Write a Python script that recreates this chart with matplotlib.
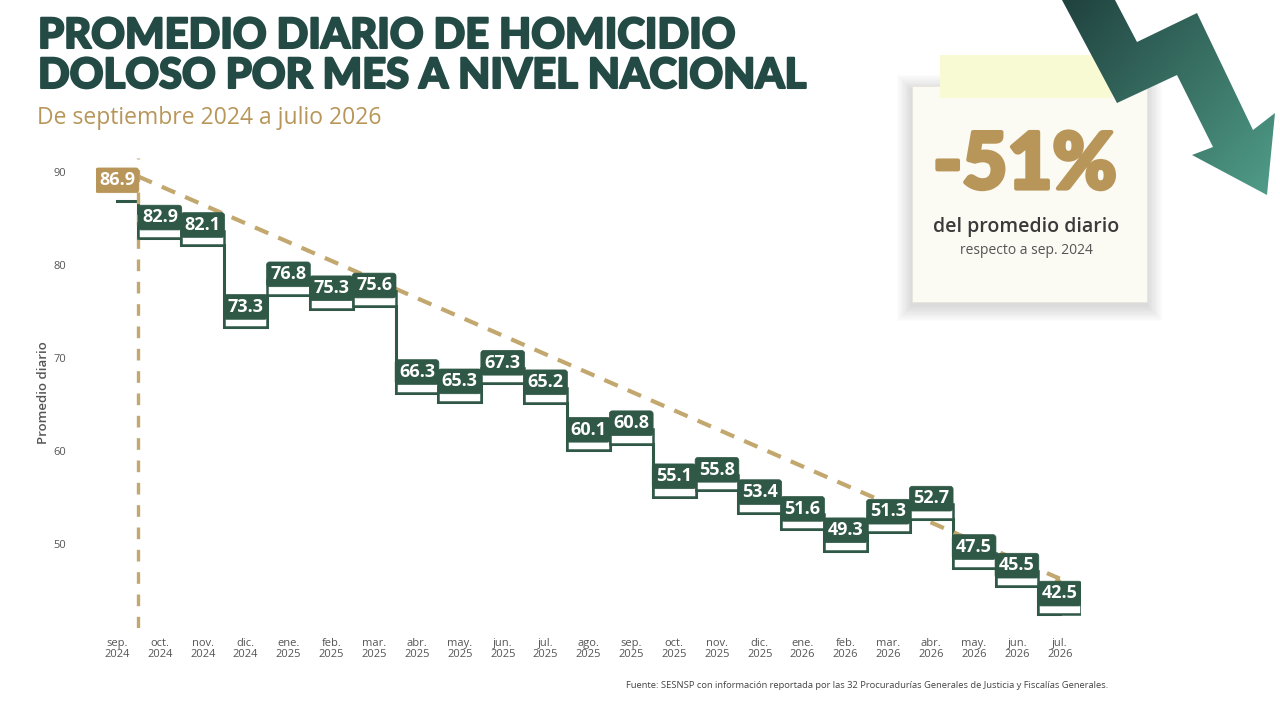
import numpy as np
import matplotlib.pyplot as plt
import matplotlib.patheffects as pe
from matplotlib.patches import FancyBboxPatch, Rectangle, Polygon

# data
months = ['sep.\n2024', 'oct.\n2024', 'nov.\n2024', 'dic.\n2024',
          'ene.\n2025', 'feb.\n2025', 'mar.\n2025', 'abr.\n2025',
          'may.\n2025', 'jun.\n2025', 'jul.\n2025', 'ago.\n2025',
          'sep.\n2025', 'oct.\n2025', 'nov.\n2025', 'dic.\n2025',
          'ene.\n2026', 'feb.\n2026', 'mar.\n2026', 'abr.\n2026',
          'may.\n2026', 'jun.\n2026', 'jul.\n2026']
values = [86.9, 82.9, 82.1, 73.3, 76.8, 75.3, 75.6, 66.3, 65.3, 67.3, 65.2,
          60.1, 60.8, 55.1, 55.8, 53.4, 51.6, 49.3, 51.3, 52.7, 47.5, 45.5, 42.5]
trend_x = [0.5, 22.0]
trend_y = [89.5, 46.3]
yticks = [50, 60, 70, 80, 90]

GREEN = '#2f5846'
GOLD = '#b8965a'
TREND = '#c2a86e'
TITLE = '#234a44'
GRAY = '#555555'

fig = plt.figure(figsize=(12.8, 7.05), dpi=100)
fig.patch.set_facecolor('white')

ax = fig.add_axes([0.0747, 0.1092, 0.770, 0.6667])
x = np.arange(len(values))
ax.set_xlim(-0.5, len(values) - 0.5)
ax.set_ylim(41, 91.5)

ax.step(x, values, where='mid', color=GREEN, lw=2.2, zorder=2,
        solid_joinstyle='miter')
ax.plot(trend_x, trend_y, color=TREND, lw=3, dashes=(3.5, 2.6), zorder=3)
ax.annotate('', xy=(trend_x[1] + 0.12, trend_y[1] - 0.6),
            xytext=(trend_x[1] - 0.2, trend_y[1] + 0.25),
            arrowprops=dict(arrowstyle='-|>', color=TREND, lw=0,
                            mutation_scale=14), zorder=3)
ax.axvline(0.5, ymin=0, ymax=1, color=TREND, lw=2.4, dashes=(3.5, 3.2),
           zorder=3.5)

# pixel-per-unit ratio for rounded corners
aspect = (0.770 * 1280 / 23) / (0.6667 * 705 / 50.5)
for i, v in enumerate(values):
    fc = GOLD if i == 0 else GREEN
    if i > 0:
        ax.add_patch(Rectangle((i - 0.5, v), 1.0, 1.6, fc='white', ec=GREEN,
                               lw=1.8, zorder=4))
    ax.add_patch(FancyBboxPatch((i - 0.46, v + 1.1), 0.92, 2.2,
                                boxstyle='round,pad=0.05,rounding_size=0.07',
                                mutation_aspect=aspect, fc=fc, ec=fc,
                                lw=0.5, zorder=5))
    ax.text(i, v + 2.22, f'{v:.1f}', ha='center', va='center', color='white',
            fontsize=13, fontweight='bold', family='Open Sans', zorder=6)

ax.set_xticks(x)
ax.set_xticklabels(months, fontsize=8, color=GRAY, family='Open Sans',
                   linespacing=1.0)
ax.set_yticks(yticks)
ax.set_yticklabels([str(t) for t in yticks], fontsize=8, color=GRAY,
                   family='Open Sans')
ax.tick_params(length=0)
ax.tick_params(axis='x', pad=7)
ax.tick_params(axis='y', pad=21)
for s in ax.spines.values():
    s.set_visible(False)
ax.set_ylabel('Promedio diario', fontsize=9.5, color=GRAY, family='Open Sans',
              fontweight='semibold', labelpad=3)

# decorations in pixel coordinates
deco = fig.add_axes([0, 0, 1, 1], zorder=10)
deco.set_xlim(0, 1280)
deco.set_ylim(705, 0)
deco.set_axis_off()

heavy = [pe.withStroke(linewidth=1.5, foreground=TITLE)]
deco.text(38, 48, 'PROMEDIO DIARIO DE HOMICIDIO', fontsize=30,
          family='Lato', fontweight='black', color=TITLE, va='baseline',
          path_effects=heavy)
deco.text(38, 88, 'DOLOSO POR MES A NIVEL NACIONAL', fontsize=30,
          family='Lato', fontweight='black', color=TITLE, va='baseline',
          path_effects=heavy)
deco.text(37, 118, 'De septiembre 2024 a julio 2026', fontsize=16.5,
          family='Open Sans', color=GOLD, va='center')

deco.text(1108, 686, 'Fuente: SESNSP con información reportada por las 32 '
          'Procuradurías Generales de Justicia y Fiscalías Generales.',
          fontsize=6.75, family='Open Sans', color='#444444', ha='right',
          va='center')

# sticky note with soft shadow
for k in range(12):
    g = 1 + k * 1.3
    deco.add_patch(Rectangle((912 - g, 86 - g + 4), 235 + 2 * g, 216 + 2 * g,
                             fc='#000000', ec='none', alpha=0.012))
deco.add_patch(Rectangle((912, 86), 235, 216, fc='#fbfaf3', ec='#e6e4da',
                         lw=0.5))
deco.add_patch(Rectangle((940, 55), 172, 43, fc='#f8fad4', ec='none'))
deco.text(1025, 166, '-51%', fontsize=56, family='Lato', fontweight='black',
          color=GOLD, ha='center', va='center',
          path_effects=[pe.withStroke(linewidth=3, foreground=GOLD)])
deco.text(1026, 227, 'del promedio diario', fontsize=14, family='Open Sans',
          fontweight='semibold', color='#3a3a3a', ha='center', va='center')
deco.text(1026, 251, 'respecto a sep. 2024', fontsize=10, family='Open Sans',
          color=GRAY, ha='center', va='center')

# zigzag arrow with gradient
arrow_pts = [(1062, 0), (1117, 103), (1177, 75), (1213, 147), (1192, 155),
             (1267, 195), (1275, 113), (1253, 130), (1197, 13), (1137, 42),
             (1115, 0)]
arrow = Polygon(arrow_pts, closed=True, fc='none', ec='none')
deco.add_patch(arrow)
gx, gy = np.meshgrid(np.linspace(0, 1, 240), np.linspace(0, 1, 210))
t = np.clip(0.55 * gx + 0.45 * gy, 0, 1)
c0 = np.array([0x1f, 0x40, 0x3d]) / 255
c1 = np.array([0x52, 0xa0, 0x8b]) / 255
img = c0 + (c1 - c0) * t[..., None]
im = deco.imshow(img, extent=(1055, 1280, 200, 0), aspect='auto', zorder=2)
im.set_clip_path(arrow)
deco.set_xlim(0, 1280)
deco.set_ylim(705, 0)

fig.savefig('out.png', dpi=100)
